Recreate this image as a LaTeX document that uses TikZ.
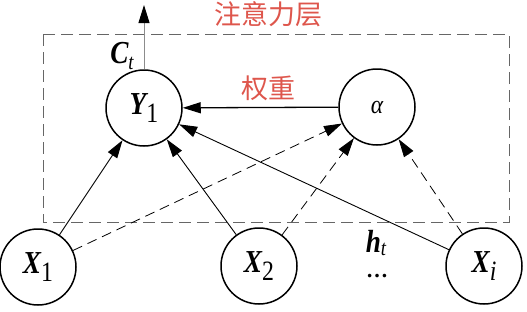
\documentclass[tikz,border=0pt]{standalone}
\usepackage{fontspec}
\usepackage{graphicx}
\setmainfont{Liberation Serif}
\newfontfamily\cjk{Noto Sans CJK SC}
\usetikzlibrary{arrows.meta}
\definecolor{labred}{RGB}{222,86,76}
\newcommand\vlab[3][8pt]{\scalebox{0.85}[1]{{\fontsize{32}{32}\selectfont\bfseries\itshape #2}\raisebox{-#1}{\fontsize{28}{28}\selectfont #3}}}
\begin{document}
\begin{tikzpicture}[x=1pt,y=-1pt,
  unit/.style={circle,draw,line width=1.5pt,minimum size=76pt,inner sep=0pt},
  tipa/.style={-{Triangle[length=18pt,width=11pt,color=black]}},
  solidarr/.style={tipa,line width=0.9pt},
  dasharr/.style={tipa,line width=0.8pt,dash pattern=on 10pt off 6pt},
  weightarr/.style={tipa,line width=1.3pt},
  outarr/.style={tipa,line width=1pt,draw=black!45},
  layerbox/.style={draw=black!60,line width=1pt,dash pattern=on 12pt off 6pt},
  cjklab/.style={text=labred,font=\cjk\fontsize{27}{27}\selectfont,inner sep=0pt}]
\useasboundingbox (0,0) rectangle (527,311);
% layer box
\draw[layerbox] (43,34) rectangle (509,222);
\node[cjklab] (layername) at (268,14) {注意力层};
% units
\node[unit] (Y1) at (144,108) {\vlab{Y}{1}};
\node[unit] (A) at (377,107) {\scalebox{0.9}[1]{\fontsize{26}{26}\selectfont\itshape α}};
\node[unit] (X1) at (38,267) {\vlab{X}{1}};
\node[unit] (X2) at (259,266) {\vlab{X}{2}};
\node[unit] (Xi) at (484,266) {\vlab{X}{\itshape i}};
% labels
\node[inner sep=0pt] (Ct) at (122,56) {\vlab[6pt]{C}{\itshape\fontsize{22}{22}\selectfont t}};
\node[cjklab] (wt) at (268,88) {权重};
\node[inner sep=0pt] (ht) at (376,243) {\vlab[4pt]{h}{\itshape\fontsize{22}{22}\selectfont t}};
\node[inner sep=0pt] (dots) at (377,276) {\fontsize{22}{22}\selectfont\bfseries …};
% output
\coordinate (out) at (144,5);
\draw[outarr] (Y1.north) -- (out);
% connections
\draw[weightarr] (A) -- (Y1);
\draw[solidarr] (X1) -- (Y1);
\draw[solidarr] (X2) -- (Y1);
\draw[solidarr] (Xi) -- (Y1);
\draw[dasharr] (X1) -- (A);
\draw[dasharr] (X2) -- (A);
\draw[dasharr] (Xi) -- (A);
\end{tikzpicture}
\end{document}
